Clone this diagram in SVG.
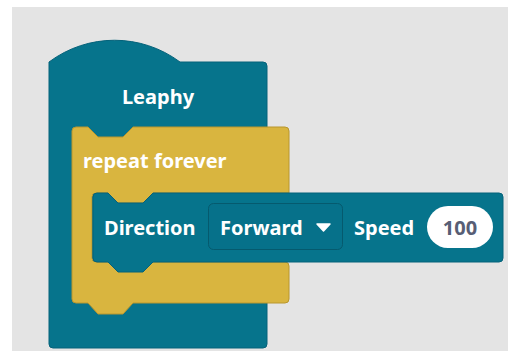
<svg xmlns="http://www.w3.org/2000/svg" width="508" height="351" viewBox="0 0 508 351">
<style>
.teal{fill:#06748C;stroke:#05627a;stroke-width:1}
.yellow{fill:#D9B53F;stroke:#b8962e;stroke-width:1}
.lbl{font-family:"Noto Sans","Open Sans","DejaVu Sans",sans-serif;font-weight:700;font-size:20px;fill:#ffffff}
.num{font-family:"Noto Sans","Open Sans","DejaVu Sans",sans-serif;font-weight:700;font-size:20px;fill:#575E75}
</style>
<rect x="0" y="0" width="508" height="351" fill="#ffffff"/>
<rect x="12" y="7" width="496" height="344" fill="#E4E4E4"/>
<g id="leaphy">
<path class="teal" d="M49,62 c39,-29 92,-29 131,0 H263 a4,4 0 0 1 4,4 V344 a4,4 0 0 1 -4,4 H53 a4,4 0 0 1 -4,-4 Z"/>
<text class="lbl" x="158" y="104" text-anchor="middle">Leaphy</text>
</g>
<g id="repeat-forever">
<path class="yellow" d="M72,131 a4,4 0 0 1 4,-4 H88 l10,10 H123 l10,-10 H285 a4,4 0 0 1 4,4 V193 H153 l-10,10 H118 l-10,-10 H96 a4,4 0 0 0 -4,4 V258 a4,4 0 0 0 4,4 H285 a4,4 0 0 1 4,4 V299 a4,4 0 0 1 -4,4 H133 l-10,11 H98 l-10,-11 H76 a4,4 0 0 1 -4,-4 Z"/>
<text class="lbl" x="83" y="168">repeat forever</text>
</g>
<g id="direction">
<path class="teal" d="M93,197 a4,4 0 0 1 4,-4 H108 l10,10 H143 l10,-10 H499 a4,4 0 0 1 4,4 V258 a4,4 0 0 1 -4,4 H153 l-10,10 H118 l-10,-10 H97 a4,4 0 0 1 -4,-4 Z"/>
<text class="lbl" x="104" y="235">Direction</text>
<g id="dropdown">
<rect x="208.5" y="203.5" width="134" height="46" rx="5" fill="#06718a" stroke="#055a6e" stroke-width="1"/>
<text class="lbl" x="220" y="235">Forward</text>
<path d="M317,224 H330 L323.5,231 Z" fill="#ffffff" stroke="#ffffff" stroke-width="1.5" stroke-linejoin="round"/>
</g>
<text class="lbl" x="354" y="235">Speed</text>
<g id="speed-value">
<rect x="427" y="206" width="66" height="42" rx="21" fill="#ffffff"/>
<text class="num" x="460" y="235" text-anchor="middle">100</text>
</g>
</g>
</svg>
